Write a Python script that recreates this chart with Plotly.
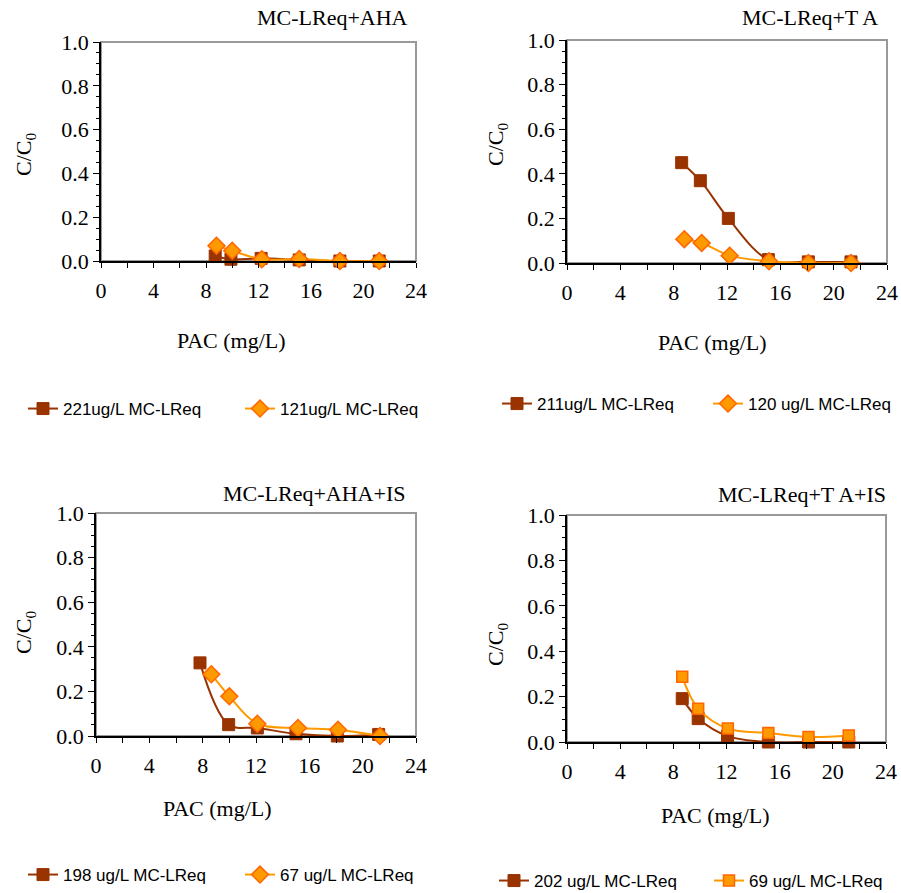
import plotly.graph_objects as go

# PAC dose (mg/L) and residual fraction C/C0 for each water matrix
aha_pac_hi = [8.7, 9.9, 12.2, 15.1, 18.2, 21.2]
aha_hi = [0.023, 0.008, 0.012, 0.005, 0.0, 0.0]
aha_pac_lo = [8.8, 10.0, 12.25, 15.1, 18.2, 21.2]
aha_lo = [0.07, 0.047, 0.008, 0.009, 0.0, 0.0]

ta_pac_hi = [8.6, 10.0, 12.1, 15.1, 18.1, 21.3]
ta_hi = [0.45, 0.369, 0.20, 0.015, 0.005, 0.005]
ta_pac_lo = [8.8, 10.1, 12.2, 15.15, 18.1, 21.3]
ta_lo = [0.107, 0.09, 0.033, 0.008, 0.0, 0.0]

ahais_pac_hi = [7.8, 9.95, 12.1, 15.0, 18.1, 21.2]
ahais_hi = [0.328, 0.051, 0.036, 0.01, 0.0, 0.007]
ahais_pac_lo = [8.65, 10.0, 12.1, 15.15, 18.15, 21.3]
ahais_lo = [0.277, 0.178, 0.055, 0.036, 0.028, 0.0]

tais_pac_hi = [8.67, 9.87, 12.08, 15.15, 18.17, 21.2]
tais_hi = [0.191, 0.103, 0.026, 0.0, 0.0, 0.0]
tais_pac_lo = [8.67, 9.87, 12.1, 15.15, 18.17, 21.2]
tais_lo = [0.287, 0.147, 0.059, 0.04, 0.022, 0.029]

panel_titles = ["MC-LReq+AHA", "MC-LReq+T A", "MC-LReq+AHA+IS", "MC-LReq+T A+IS"]
legend_names = [
    ("221ug/L MC-LReq", "121ug/L MC-LReq"),
    ("211ug/L MC-LReq", "120 ug/L MC-LReq"),
    ("198 ug/L MC-LReq", "67 ug/L MC-LReq"),
    ("202 ug/L MC-LReq", "69 ug/L MC-LReq"),
]
x_ticks = [0, 4, 8, 12, 16, 20, 24]
y_ticks = [0.0, 0.2, 0.4, 0.6, 0.8, 1.0]

BROWN = "#993300"
ORANGE = "#FF9900"
ORANGE_EDGE = "#FF6600"
SERIF = "Liberation Serif"
SANS = "Liberation Sans"
FS = 22

W, H = 901, 893

def px(x):
    return x / W

def py(y):
    return 1 - y / H

# plot-area boxes in pixels: left, right, top, bottom
boxes = [(101, 416, 42, 261), (567, 887, 40, 263), (96, 416, 513, 736), (567, 886, 515, 742)]
title_pos = [(332, 18), (810, 18), (314, 493), (802, 494)]
xtitle_pos = [(232, 340), (712, 342), (217, 808), (715, 815)]
ytitle_pos = [(25, 155), (497, 145), (25, 633), (497, 645)]
legend_pos = [(23, 409), (497, 404), (23, 875), (494, 881)]
legend_entry = [172, 166, 172, 170]

series = [
    (aha_pac_hi, aha_hi, aha_pac_lo, aha_lo, "diamond"),
    (ta_pac_hi, ta_hi, ta_pac_lo, ta_lo, "diamond"),
    (ahais_pac_hi, ahais_hi, ahais_pac_lo, ahais_lo, "diamond"),
    (tais_pac_hi, tais_hi, tais_pac_lo, tais_lo, "square"),
]

fig = go.Figure()
annotations = []
shapes = []
layout_axes = {}

for i, (xh, yh, xl, yl, lo_symbol) in enumerate(series):
    n = i + 1
    sfx = "" if n == 1 else str(n)
    xa, ya, leg = f"x{sfx}", f"y{sfx}", f"legend{sfx}"
    name_hi, name_lo = legend_names[i]

    fig.add_trace(go.Scatter(
        x=xh, y=yh, xaxis=xa, yaxis=ya, legend=leg, name=name_hi,
        mode="lines+markers", line=dict(color=BROWN, width=2, shape="spline", smoothing=1),
        marker=dict(symbol="square", size=12, color=BROWN, line=dict(color=BROWN, width=1)),
        cliponaxis=False,
    ))
    fig.add_trace(go.Scatter(
        x=xl, y=yl, xaxis=xa, yaxis=ya, legend=leg, name=name_lo,
        mode="lines+markers", line=dict(color=ORANGE, width=2, shape="spline", smoothing=1),
        marker=dict(symbol=lo_symbol, size=13 if lo_symbol == "diamond" else 11,
                    color=ORANGE, line=dict(color=ORANGE_EDGE, width=1.5)),
        cliponaxis=False,
    ))

    l, r, t, b = boxes[i]
    tickfont = dict(family=SERIF, size=FS, color="black")
    layout_axes[f"xaxis{sfx}"] = dict(
        domain=[px(l), px(r)], anchor=ya, range=[0, 24], automargin=False,
        showgrid=False, zeroline=False, showline=True, linecolor="black", linewidth=1.5,
        tickmode="array", tickvals=x_ticks, ticks="outside", ticklen=5,
        tickcolor="black", tickwidth=1.2, tickfont=tickfont, ticklabelstandoff=4,
        minor=dict(dtick=2, tick0=0, ticks="outside", ticklen=5, tickcolor="black", tickwidth=1.2),
    )
    layout_axes[f"yaxis{sfx}"] = dict(
        domain=[py(b), py(t)], anchor=xa, range=[0, 1], automargin=False,
        showgrid=False, zeroline=False, showline=True, linecolor="black", linewidth=1.5,
        tickmode="array", tickvals=y_ticks, tickformat=".1f", ticks="outside", ticklen=6,
        tickcolor="black", tickwidth=1.2, tickfont=tickfont,
        minor=dict(dtick=0.05, tick0=0, ticks="outside", ticklen=3, tickcolor="black", tickwidth=1.2),
    )
    layout_axes[leg] = dict(
        x=px(legend_pos[i][0]), y=py(legend_pos[i][1]), xanchor="left", yanchor="middle",
        orientation="h", font=dict(family=SANS, size=17, color="black"),
        bgcolor="rgba(0,0,0,0)", traceorder="normal", itemclick=False,
        entrywidth=legend_entry[i], entrywidthmode="pixels",
    )

    # grey plot-area frame, black axis lines drawn on top of it
    shapes.append(dict(
        type="rect", xref=f"{xa} domain", yref=f"{ya} domain", x0=0, x1=1, y0=0, y1=1,
        line=dict(color="#999999", width=2), layer="below",
    ))

    tx, ty = title_pos[i]
    annotations.append(dict(
        text=panel_titles[i], x=px(tx), y=py(ty), xref="paper", yref="paper",
        showarrow=False, xanchor="center", yanchor="middle",
        font=dict(family=SERIF, size=FS, color="black"),
    ))
    ax_, ay_ = xtitle_pos[i]
    annotations.append(dict(
        text="PAC (mg/L)", x=px(ax_), y=py(ay_), xref="paper", yref="paper",
        showarrow=False, xanchor="center", yanchor="middle",
        font=dict(family=SERIF, size=FS, color="black"),
    ))
    yx, yy = ytitle_pos[i]
    annotations.append(dict(
        text="C/C<sub>0</sub>", x=px(yx), y=py(yy), xref="paper", yref="paper",
        showarrow=False, xanchor="center", yanchor="middle", textangle=-90,
        font=dict(family=SERIF, size=FS, color="black"),
    ))

fig.update_layout(
    template="none",
    width=W, height=H, margin=dict(l=0, r=0, t=0, b=0, autoexpand=False),
    font=dict(family=SERIF, size=FS, color="black"),
    paper_bgcolor="white", plot_bgcolor="white",
    annotations=annotations, shapes=shapes, showlegend=True,
    **layout_axes,
)

fig.write_html("out.html")
